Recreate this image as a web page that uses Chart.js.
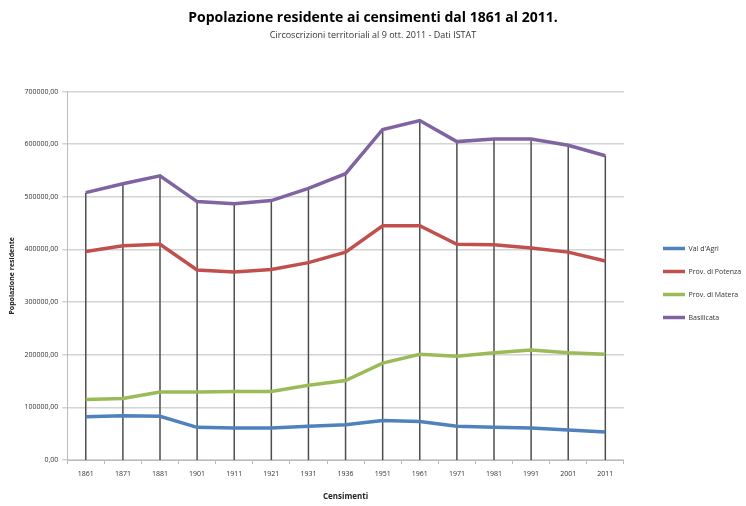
<!DOCTYPE html>
<html>
<head>
<meta charset="utf-8">
<script src="https://cdn.jsdelivr.net/npm/chart.js@4/dist/chart.umd.min.js"></script>
<style>
  html, body { margin: 0; padding: 0; background: #fff; }
  #wrap { width: 746px; height: 506px; }
</style>
</head>
<body>
<div id="wrap"><canvas id="myChart" width="746" height="506"></canvas></div>
<script>
const censimenti = ['1861', '1871', '1881', '1901', '1911', '1921', '1931', '1936', '1951', '1961', '1971', '1981', '1991', '2001', '2011'];
const valDAgri = [82000, 84000, 83000, 62000, 61000, 61000, 64000, 67000, 75000, 73000, 64000, 62000, 61000, 57000, 53000];
const provPotenza = [396000, 407000, 410000, 361000, 357000, 362000, 375000, 395000, 445000, 445000, 410000, 409000, 403000, 395000, 378000];
const provMatera = [115000, 117000, 129000, 129000, 130000, 130000, 142000, 151000, 184000, 201000, 197000, 204000, 209000, 204000, 201000];
const basilicata = [508000, 525000, 540000, 491000, 487000, 493000, 516000, 544000, 628000, 645000, 605000, 610000, 610000, 598000, 578000];
const yTicks = [0, 100000, 200000, 300000, 400000, 500000, 600000, 700000];

const fontFam = "'Open Sans', 'Liberation Sans', sans-serif";

// linee verticali dal punto piu alto fino all'asse (drop lines)
const dropLines = {
    id: 'dropLines',
    beforeDatasetsDraw(chart) {
        const ctx = chart.ctx;
        const x = chart.scales.x;
        const y = chart.scales.y;
        ctx.save();
        ctx.strokeStyle = '#4d4d4d';
        ctx.lineWidth = 1.5;
        censimenti.forEach(function (c, i) {
            const top = Math.max(valDAgri[i], provPotenza[i], provMatera[i], basilicata[i]);
            const px = x.getPixelForValue(i);
            ctx.beginPath();
            ctx.moveTo(px, y.getPixelForValue(top));
            ctx.lineTo(px, y.getPixelForValue(0));
            ctx.stroke();
        });
        ctx.restore();
    }
};

// sposta legenda e titoli come nel grafico originale
const layoutShift = {
    id: 'layoutShift',
    afterLayout(chart) {
        const lg = chart.legend;
        const w = lg.right - lg.left;
        lg.left = 647;
        lg.right = lg.left + w;
        lg.top += 27;
        lg.bottom += 27;
        chart.boxes.forEach(function (b) {
            if (b !== lg && b.position === 'top') {
                b.left += 7;
                b.right += 7;
            }
        });
    }
};

const ctx = document.getElementById('myChart').getContext('2d');
const myChart = new Chart(ctx, {
    type: 'line',
    data: {
        labels: censimenti,
        datasets: [
            {
                label: "Val d'Agri",
                data: valDAgri,
                borderColor: '#4F81BD',
                backgroundColor: '#4F81BD',
                borderWidth: 3.5,
                pointRadius: 0,
                tension: 0
            },
            {
                label: 'Prov. di Potenza',
                data: provPotenza,
                borderColor: '#C0504D',
                backgroundColor: '#C0504D',
                borderWidth: 3.5,
                pointRadius: 0,
                tension: 0
            },
            {
                label: 'Prov. di Matera',
                data: provMatera,
                borderColor: '#9BBB59',
                backgroundColor: '#9BBB59',
                borderWidth: 3.5,
                pointRadius: 0,
                tension: 0
            },
            {
                label: 'Basilicata',
                data: basilicata,
                borderColor: '#8064A2',
                backgroundColor: '#8064A2',
                borderWidth: 3.5,
                pointRadius: 0,
                tension: 0
            }
        ]
    },
    plugins: [dropLines, layoutShift],
    options: {
        responsive: false,
        animation: false,
        layout: {
            padding: { left: 4, right: 18, top: 6, bottom: 0 }
        },
        plugins: {
            title: {
                display: true,
                text: 'Popolazione residente ai censimenti dal 1861 al 2011.',
                color: '#000',
                font: { family: fontFam, size: 14, weight: 'bold' },
                padding: { top: 4, bottom: 3 }
            },
            subtitle: {
                display: true,
                text: 'Circoscrizioni territoriali al 9 ott. 2011 - Dati ISTAT',
                color: '#333',
                font: { family: fontFam, size: 9 },
                padding: { bottom: 51 }
            },
            legend: {
                position: 'right',
                labels: {
                    usePointStyle: true,
                    pointStyle: 'line',
                    pointStyleWidth: 22,
                    boxHeight: 3,
                    color: '#333',
                    padding: 16,
                    font: { family: fontFam, size: 7 }
                }
            },
            tooltip: { enabled: false }
        },
        scales: {
            x: {
                offset: true,
                grid: {
                    display: true,
                    drawOnChartArea: false,
                    offset: true,
                    tickLength: 4,
                    color: '#bbb'
                },
                border: { color: '#bbb' },
                ticks: {
                    color: '#333',
                    font: { family: fontFam, size: 7 },
                    maxRotation: 0,
                    padding: 6
                },
                title: {
                    display: true,
                    text: 'Censimenti',
                    color: '#222',
                    font: { family: fontFam, size: 8, weight: 'bold' },
                    padding: { top: 8 }
                }
            },
            y: {
                min: 0,
                max: 700000,
                afterBuildTicks: function (axis) {
                    axis.ticks = yTicks.map(function (v) { return { value: v }; });
                },
                grid: {
                    color: '#d4d4d4',
                    lineWidth: 1.5,
                    tickLength: 5
                },
                border: { color: '#bbb' },
                ticks: {
                    color: '#333',
                    font: { family: fontFam, size: 7 },
                    padding: 4,
                    callback: function (v) { return v.toFixed(2).replace('.', ','); }
                },
                title: {
                    display: true,
                    text: 'Popolazione residente',
                    color: '#222',
                    font: { family: fontFam, size: 7, weight: 'bold' },
                    padding: { bottom: 4 }
                }
            }
        }
    }
});
</script>
</body>
</html>
